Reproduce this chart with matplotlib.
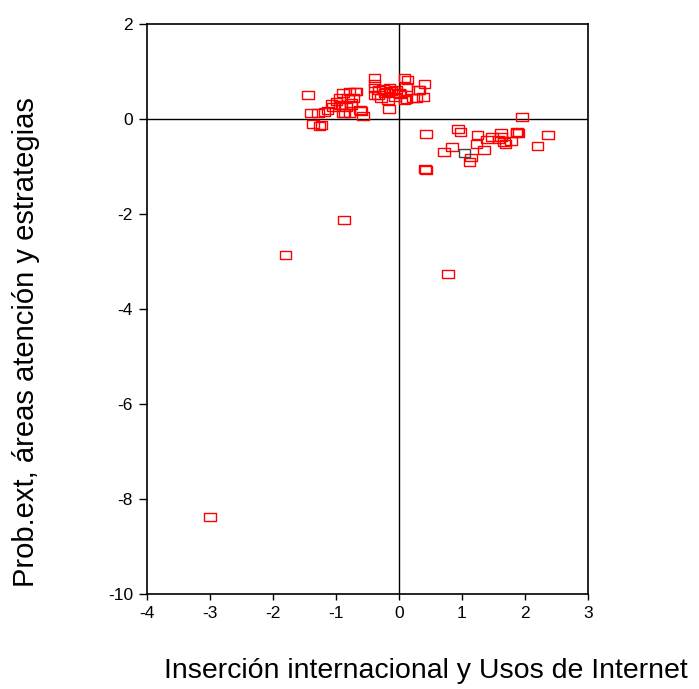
import matplotlib
matplotlib.use("Agg")
import matplotlib.pyplot as plt
import numpy as np

plt.rcParams['font.family'] = ['Liberation Sans', 'DejaVu Sans']
plt.rcParams['axes.unicode_minus'] = False

# left cluster (negative x, mostly positive y)
x_left = [-1.44, -1.39, -1.36, -1.23, -1.28, -1.18, -1.13, -1.07, -0.99, -0.94,
          -0.885, -0.78, -0.70, -0.67, -0.81, -0.73, -0.755, -0.94, -1.04, -0.885,
          -0.78, -0.60, -0.57, -0.84, -1.26, -0.91, -0.86, -0.755, -0.62]
y_left = [0.51, 0.12, -0.11, -0.13, 0.12, 0.14, 0.18, 0.31, 0.37, 0.44,
          0.54, 0.58, 0.58, 0.58, 0.44, 0.44, 0.30, 0.30, 0.26, 0.12,
          0.12, 0.17, 0.06, 0.26, -0.15, 0.30, 0.12, 0.33, 0.19]

# centre cluster around x = 0
x_mid = [-0.385, -0.385, -0.385, -0.385, -0.31, -0.23, -0.15, -0.095, -0.17, -0.155,
         -0.04, -0.06, 0.09, 0.14, 0.117, 0.09, 0.22, 0.33, 0.41, 0.38,
         -0.28, -0.33, -0.20, -0.12, 0.0, 0.30, 0.28, 0.12, -0.25, 0.02]
y_mid = [0.86, 0.75, 0.65, 0.51, 0.61, 0.54, 0.65, 0.54, 0.40, 0.22,
         0.61, 0.47, 0.86, 0.82, 0.68, 0.40, 0.44, 0.61, 0.74, 0.47,
         0.44, 0.50, 0.58, 0.60, 0.55, 0.61, 0.44, 0.42, 0.64, 0.52]

# right cluster (positive x, mostly negative y)
x_right = [1.95, 0.43, 0.94, 0.98, 1.25, 0.84, 0.72, 1.15, 1.12, 1.235,
           1.35, 1.40, 1.48, 1.62, 1.62, 1.58, 1.67, 1.69, 1.78, 1.88,
           1.90, 1.87, 2.37, 2.20, 0.42, 0.43]
y_right = [0.035, -0.32, -0.21, -0.27, -0.34, -0.58, -0.70, -0.81, -0.90, -0.53,
           -0.65, -0.43, -0.37, -0.29, -0.37, -0.43, -0.48, -0.53, -0.46, -0.27,
           -0.30, -0.30, -0.34, -0.57, -1.06, -1.07]

# outliers
x_out = [-3.0, -1.80, -0.87, 0.78]
y_out = [-8.38, -2.87, -2.12, -3.26]

# single grey marker
x_grey = [1.04]
y_grey = [-0.72]

x_red = x_left + x_mid + x_right + x_out
y_red = y_left + y_mid + y_right + y_out

rect = [(-1, -0.68), (1, -0.68), (1, 0.68), (-1, 0.68), (-1, -0.68)]

fig = plt.figure(figsize=(6.99, 6.89), dpi=100)
ax = fig.add_axes([0.210, 0.138, 0.631, 0.827])

ax.axhline(0, color='black', lw=1, zorder=1)
ax.axvline(0, color='black', lw=1, zorder=1)

ax.scatter(x_red, y_red, marker=rect, s=70, facecolors='none',
           edgecolors='red', linewidths=1.0, zorder=3)
ax.scatter(x_grey, y_grey, marker=rect, s=70, facecolors='none',
           edgecolors='#444444', linewidths=1.0, zorder=3)

ax.set_xlim(-4, 3)
ax.set_ylim(-10, 2)
ax.set_xticks(np.arange(-4, 4, 1))
ax.set_yticks(np.arange(-10, 3, 2))
ax.tick_params(direction='out', width=1, labelsize=12.5)
ax.tick_params(axis='x', length=4, pad=5)
ax.tick_params(axis='y', length=6, pad=4)
for s in ax.spines.values():
    s.set_linewidth(1.2)

ax.set_xlabel("Inserción internacional y Usos de Internet", fontsize=20.5)
ax.set_ylabel("Prob.ext, áreas atención y estrategias", fontsize=21)
ax.xaxis.set_label_coords(0.633, -0.112)
ax.yaxis.set_label_coords(-0.243, 0.442)

plt.savefig("out.png", dpi=100)
